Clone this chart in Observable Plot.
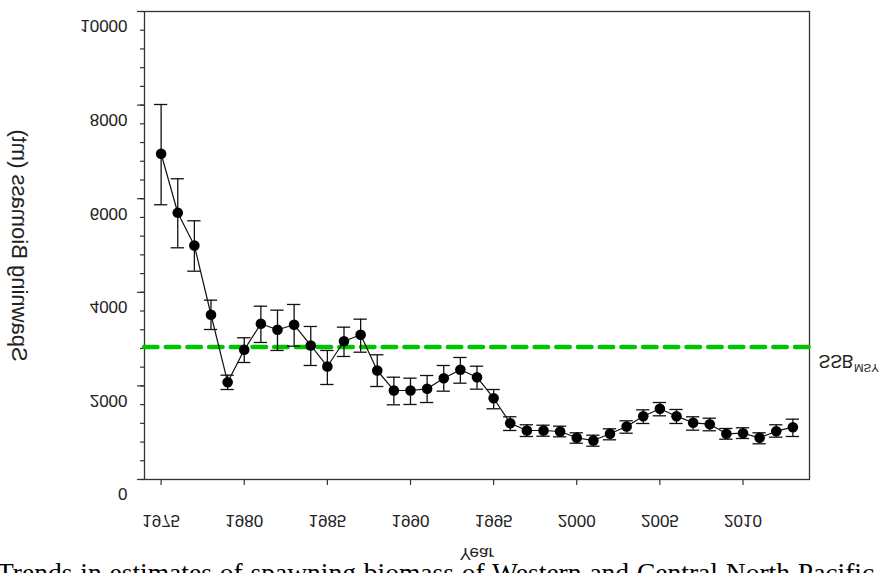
<!DOCTYPE html>
<html>
<head>
<meta charset="utf-8">
<script src="https://cdn.jsdelivr.net/npm/d3@7"></script>
<script src="https://cdn.jsdelivr.net/npm/@observablehq/plot@0.6"></script>
<style>
  html, body { margin: 0; padding: 0; background: white; overflow: hidden; }
  #chart svg { overflow: visible; }
  #caption {
    font-family: "Liberation Serif", "Times New Roman", serif;
    font-size: 27.5px;
    line-height: 30px;
    word-spacing: 1px;
    color: #000;
    white-space: nowrap;
    margin-left: -3px;
    margin-top: 3px;
  }
</style>
</head>
<body>
<div id="chart"></div>
<div id="caption">Trends in estimates of spawning biomass of Western and Central North Pacific</div>
<script>
const years = d3.range(1975, 2014);
const biomass = [6960,5699,5000,3520,2079,2772,3327,3199,3306,2864,2415,2955,3092,2329,
  1902,1902,1938,2165,2344,2186,1737,1203,1047,1047,1026,891,833,977,1133,
  1353,1511,1353,1212,1182,977,989,891,1032,1118];
const upper = [8013,6426,5528,3832,2229,3028,3703,3618,3740,3270,2757,3255,3426,2665,
  2186,2165,2222,2436,2607,2421,1923,1340,1169,1160,1139,998,947,1083,1254,
  1489,1645,1496,1340,1310,1090,1105,998,1169,1289];
const lower = [5870,4951,4451,3205,1923,2500,2928,2757,2849,2436,2030,2629,2720,1987,
  1596,1603,1645,1887,2058,1930,1511,1047,919,925,912,776,712,848,989,
  1197,1361,1197,1054,1041,861,876,763,904,919];
const ssbMsy = 2830;
const xTicks = [1975, 1980, 1985, 1990, 1995, 2000, 2005, 2010];
const yTicks = [0, 2000, 4000, 6000, 8000, 10000];
const yMinorTicks = d3.range(0, 10001, 400);
const yLabel = "Spawning Biomass (mt)";
const xLabel = "Year";
const refMain = "SSB";
const refSub = "MSY";

const data = years.map((year, i) => ({year, value: biomass[i], hi: upper[i], lo: lower[i]}));
const capHalf = 0.4;
const ink = "#111";

const chart = Plot.plot({
  width: 882,
  height: 555,
  marginLeft: 144,
  marginRight: 73,
  marginTop: 11,
  marginBottom: 76,
  style: {fontFamily: "'Liberation Sans', Arial, sans-serif", fontSize: "17px", color: "#222", background: "white"},
  x: {domain: [1974, 2014]},
  y: {domain: [0, 10000]},
  marks: [
    Plot.frame({stroke: "#333", strokeWidth: 1.3}),
    Plot.axisY({ticks: yMinorTicks, tickSize: 4, tickFormat: () => "", label: null, stroke: "#333", strokeWidth: 1.2}),
    Plot.axisY({ticks: yTicks, tickSize: 7, tickFormat: () => "", label: null, stroke: "#333", strokeWidth: 1.2}),
    Plot.axisY({ticks: yTicks, tickSize: 0, tickPadding: 17, dy: 14.5, label: null, tickFormat: d => String(d)}),
    Plot.axisX({ticks: xTicks, tickSize: 6, tickFormat: () => "", label: null, stroke: "#333", strokeWidth: 1.2}),
    Plot.axisX({ticks: xTicks, tickSize: 0, tickPadding: 34, label: null, tickFormat: d => String(d)}),
    Plot.ruleY([ssbMsy], {stroke: "#00c400", strokeWidth: 4.5, strokeDasharray: "13.5 8.2", strokeLinecap: "round"}),
    Plot.ruleX(data, {x: "year", y1: "lo", y2: "hi", stroke: ink, strokeWidth: 1.3}),
    Plot.ruleY(data, {y: "hi", x1: d => d.year - capHalf, x2: d => d.year + capHalf, stroke: ink, strokeWidth: 1.3}),
    Plot.ruleY(data, {y: "lo", x1: d => d.year - capHalf, x2: d => d.year + capHalf, stroke: ink, strokeWidth: 1.3}),
    Plot.line(data, {x: "year", y: "value", stroke: ink, strokeWidth: 1.2}),
    Plot.dot(data, {x: "year", y: "value", r: 5.3, fill: "black", stroke: "none"}),
    Plot.text([yLabel], {frameAnchor: "left", text: d => d, rotate: -90, dx: -124.5, fontSize: 22, textAnchor: "middle", lineAnchor: "middle", fill: "#222"}),
    Plot.text([xLabel], {frameAnchor: "bottom", text: d => d, dy: 74, fontSize: 17, textAnchor: "middle", lineAnchor: "middle", fill: "#222"}),
    Plot.text([ssbMsy], {x: 2014, y: d => d, text: () => refMain, dx: 9, dy: 14.5, fontSize: 17.5, textAnchor: "start", lineAnchor: "middle", fill: "#222"}),
    Plot.text([ssbMsy], {x: 2014, y: d => d, text: () => refSub, dx: 44.5, dy: 21, fontSize: 11.5, textAnchor: "start", lineAnchor: "middle", fill: "#222"})
  ]
});

document.getElementById("chart").appendChild(chart);

// Flip every text vertically about its own centre, as in the reference
chart.querySelectorAll("text").forEach(t => {
  let b;
  try { b = t.getBBox(); } catch (e) { return; }
  if (!b || b.height === 0 || b.width === 0) return;
  const cy = b.y + b.height / 2;
  const tr = t.getAttribute("transform") || "";
  t.setAttribute("transform", `${tr} translate(0,${2 * cy}) scale(1,-1)`.trim());
});
</script>
</body>
</html>
